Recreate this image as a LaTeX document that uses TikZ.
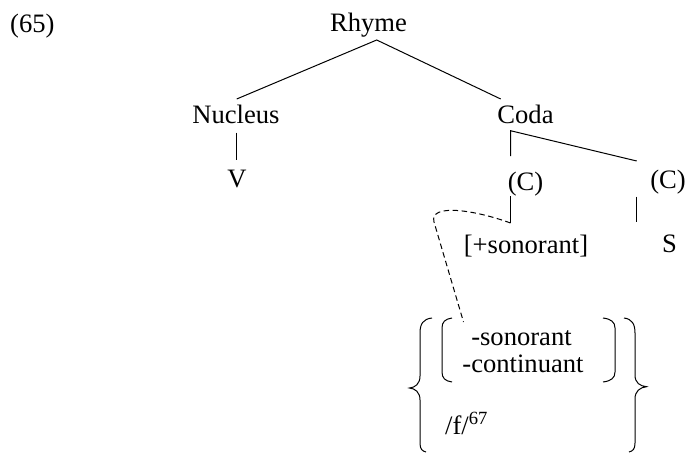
\documentclass[tikz,border=0pt]{standalone}
\usepackage{fontspec}
\setmainfont{Liberation Serif}
\begin{document}
\begin{tikzpicture}[x=1pt,y=-1pt,
  lbl/.style={inner sep=0pt,anchor=base,font=\fontsize{26.6}{30}\selectfont},
  lbll/.style={inner sep=0pt,anchor=base west,font=\fontsize{26.6}{30}\selectfont},
  edge/.style={line width=1pt},
  dashedge/.style={line width=1pt,dash pattern=on 5.5pt off 3.5pt},
  brk/.style={line width=1pt}]
\useasboundingbox (0,0) rectangle (687,452);
% labels
\node[lbll] (num) at (10,33) {(65)};
\node[lbl] (rhyme) at (368.5,32) {Rhyme};
\node[lbl] (nucleus) at (236,123) {Nucleus};
\node[lbl] (coda) at (525.5,123) {Coda};
\node[lbl] (v) at (237,187) {V};
\node[lbl] (c1) at (525.5,190) {(C)};
\node[lbl] (c2) at (668,188) {(C)};
\node[lbl] (son) at (526,253) {[+sonorant]};
\node[lbl] (s) at (669.5,252) {S};
\node[lbl] (mson) at (521.5,345) {-sonorant};
\node[lbl] (mcont) at (523,372) {-continuant};
\node[lbll] (f) at (445,434) {/f/\textsuperscript{67}};
% connector ends
\coordinate (rhymeb) at (376.7,40);
\coordinate (nuct) at (236.7,99);
\coordinate (codat) at (500.7,99);
\coordinate (nucb) at (236.7,132.7);
\coordinate (vt) at (236.7,160);
\coordinate (codab) at (510.5,130.7);
\coordinate (c1t) at (510.5,156);
\coordinate (c2t) at (636.7,161);
\coordinate (c1b) at (510.5,196);
\coordinate (sont) at (510.5,223);
\coordinate (c2b) at (636.7,196.5);
\coordinate (st) at (636.7,221.7);
\coordinate (bend) at (434,222);
\coordinate (featt) at (463.5,322);
% tree
\draw[edge] (nuct) -- (rhymeb) -- (codat);
\draw[edge] (nucb) -- (vt);
\draw[edge] (c1t) -- (codab) -- (c2t);
\draw[edge] (c1b) -- (sont);
\draw[edge] (c2b) -- (st);
\draw[dashedge] (sont) .. controls (475,210) and (429,203) .. (bend) -- (featt);
% big braces
\draw[brk] (432,318) .. controls (423,319) and (420,324) .. (420,333) -- (420,376)
  .. controls (420,384) and (415,387.5) .. (409.5,388)
  .. controls (415,388.5) and (420,392) .. (420,400) -- (420,443)
  .. controls (420,449) and (422,451) .. (426,452);
\draw[brk] (624,318) .. controls (632,319) and (635,324) .. (635,333) -- (635,375)
  .. controls (635,383) and (640,386) .. (646.5,386.7)
  .. controls (640,387.4) and (635,391) .. (635,399) -- (635,443)
  .. controls (635,449) and (633,451) .. (629,452);
% inner brackets
\draw[brk] (452,318) .. controls (445,319) and (442,322) .. (442,328) -- (442,372)
  .. controls (442,378) and (445,381) .. (452,382);
\draw[brk] (603,318) .. controls (611,319) and (615,322) .. (615,328) -- (615,372)
  .. controls (615,378) and (611,381) .. (603,382);
\end{tikzpicture}
\end{document}
